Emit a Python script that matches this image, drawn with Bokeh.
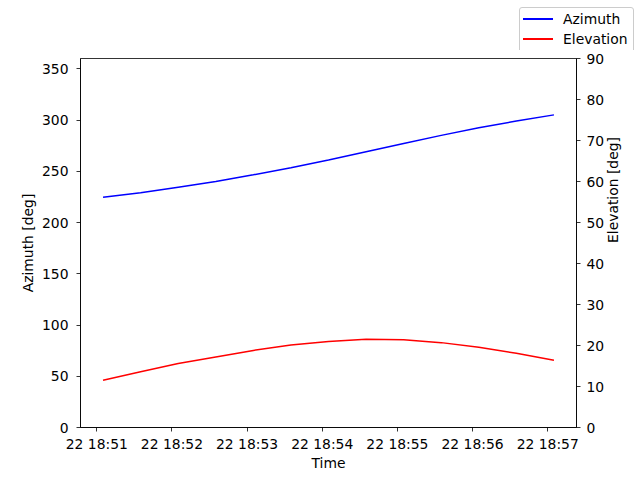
import math
import pandas as pd
from bokeh.plotting import figure
from bokeh.layouts import column
from bokeh.models import (Range1d, LinearAxis, DatetimeAxis, FixedTicker,
                          DatetimeTickFormatter, Div)
from bokeh.embed import file_html
from bokeh.resources import INLINE

# ---- data ----
times = ["2023-01-22 18:51:05", "2023-01-22 18:51:35", "2023-01-22 18:52:05",
         "2023-01-22 18:52:35", "2023-01-22 18:53:05", "2023-01-22 18:53:35",
         "2023-01-22 18:54:05", "2023-01-22 18:54:35", "2023-01-22 18:55:05",
         "2023-01-22 18:55:35", "2023-01-22 18:56:05", "2023-01-22 18:56:35",
         "2023-01-22 18:57:05"]
azimuth = [224.7, 229.0, 234.5, 240.0, 246.5, 253.5, 261.0, 269.0, 277.0,
           285.0, 292.5, 299.0, 305.0]
elevation = [11.5, 13.6, 15.6, 17.2, 18.8, 20.1, 21.0, 21.5, 21.4, 20.7,
             19.6, 18.1, 16.4]
tick_times = ["2023-01-22 18:51", "2023-01-22 18:52", "2023-01-22 18:53",
              "2023-01-22 18:54", "2023-01-22 18:55", "2023-01-22 18:56",
              "2023-01-22 18:57"]
az_ticks = [0, 50, 100, 150, 200, 250, 300, 350]
el_ticks = [0, 10, 20, 30, 40, 50, 60, 70, 80, 90]
series_names = ["Azimuth", "Elevation"]
series_colors = ["#0000ff", "#ff0000"]

# ---- layout / style constants ----
FONT = "DejaVu Sans"
FS = "13.9px"
W = 640
STRIP_H = 50          # legend strip above the plot (pixels)
MAIN_H = 480 - STRIP_H
LEG_LEFT, LEG_RIGHT, LEG_TOP, LEG_BOTTOM = 518.5, 633.5, 6.5, 50
LEG_ROW_Y = [19.0, 39.0]
LEG_LINE_X = [523, 553]
LEG_TEXT_X = 563

t_ms = [x.value / 1e6 for x in pd.to_datetime(times)]
tick_ms = [x.value / 1e6 for x in pd.to_datetime(tick_times)]
pad = 0.05 * (t_ms[-1] - t_ms[0])

# ---------------- main plot ----------------
p = figure(width=W, height=MAIN_H, output_backend="svg", toolbar_location=None,
           x_range=Range1d(t_ms[0] - pad, t_ms[-1] + pad),
           y_range=Range1d(0, 360),
           x_axis_type=None, y_axis_type=None,
           min_border_left=80, min_border_right=64,
           min_border_top=58 - STRIP_H, min_border_bottom=53)
p.extra_y_ranges = {"elev": Range1d(0, 90)}
p.xgrid.visible = False
p.ygrid.visible = False
p.outline_line_color = "black"
p.outline_line_width = 0.8
p.outline_line_alpha = 1.0
p.background_fill_color = "white"
p.border_fill_color = "white"


def style(ax, label):
    ax.axis_label = label
    ax.axis_label_text_font = FONT
    ax.axis_label_text_font_size = FS
    ax.axis_label_text_font_style = "normal"
    ax.axis_label_text_color = "black"
    ax.major_label_text_font = FONT
    ax.major_label_text_font_size = FS
    ax.major_label_text_color = "black"
    ax.axis_line_color = "black"
    ax.axis_line_width = 0.8
    ax.major_tick_line_color = "black"
    ax.major_tick_line_width = 0.8
    ax.major_tick_in = 0
    ax.major_tick_out = 4
    ax.minor_tick_line_color = None


xax = DatetimeAxis(ticker=FixedTicker(ticks=tick_ms))
fmt = "%d %H:%M"
xax.formatter = DatetimeTickFormatter(milliseconds=fmt, seconds=fmt, minsec=fmt,
                                      minutes=fmt, hourmin=fmt, hours=fmt,
                                      days=fmt, months=fmt, years=fmt)
style(xax, "Time")
xax.major_label_standoff = 4
xax.axis_label_standoff = 0
p.add_layout(xax, "below")

yl = LinearAxis(ticker=FixedTicker(ticks=az_ticks))
style(yl, "Azimuth [deg]")
yl.major_label_standoff = 8
yl.axis_label_standoff = 3
p.add_layout(yl, "left")

yr = LinearAxis(y_range_name="elev", ticker=FixedTicker(ticks=el_ticks))
style(yr, "Elevation [deg]")
yr.major_label_standoff = 6
yr.axis_label_standoff = 6
try:
    yr.axis_label_orientation = math.pi / 2
except Exception:
    pass
p.add_layout(yr, "right")

p.line(t_ms, azimuth, line_color=series_colors[0], line_width=1.5)
p.line(t_ms, elevation, line_color=series_colors[1], line_width=1.5,
       y_range_name="elev")

# ---------------- legend strip (HTML) above the plot ----------------
html = (f'<div style="position:relative;width:{W}px;height:{STRIP_H}px;'
        f'background:white;overflow:hidden;">'
        f'<div style="position:absolute;left:{LEG_LEFT}px;top:{LEG_TOP}px;'
        f'width:{LEG_RIGHT - LEG_LEFT}px;height:{LEG_BOTTOM - LEG_TOP + 3}px;'
        f'box-sizing:border-box;border:1px solid #cccccc;border-radius:3px;'
        f'background:rgba(255,255,255,0.8);"></div>')
for name, color, y in zip(series_names, series_colors, LEG_ROW_Y):
    html += (f'<div style="position:absolute;left:{LEG_LINE_X[0]}px;'
             f'top:{y - 1}px;width:{LEG_LINE_X[1] - LEG_LINE_X[0]}px;'
             f'height:2px;background:{color};"></div>')
    html += (f'<div style="position:absolute;left:{LEG_TEXT_X}px;top:{y}px;'
             f'transform:translateY(-50%);font-family:\'{FONT}\';'
             f'font-size:{FS};line-height:1.15;color:black;'
             f'white-space:nowrap;">{name}</div>')
html += '</div>'
legend_strip = Div(text=html, width=W, height=STRIP_H, margin=0)

layout = column(legend_strip, p, spacing=0)
open("out.html", "w").write(file_html(layout, INLINE))
